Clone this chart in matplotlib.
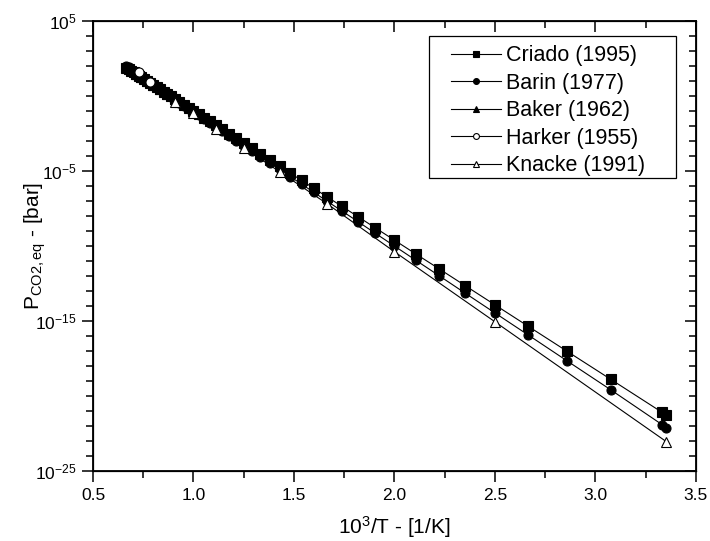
import numpy as np
import matplotlib
matplotlib.use("Agg")
import matplotlib.pyplot as plt
from matplotlib.patches import Rectangle
from matplotlib.ticker import NullFormatter, FixedLocator

plt.rcParams['font.family'] = ['Liberation Sans', 'DejaVu Sans']
plt.rcParams['mathtext.fontset'] = 'custom'
plt.rcParams['mathtext.rm'] = 'Liberation Sans'
plt.rcParams['mathtext.it'] = 'Liberation Sans:italic'

# temperatures [K] and log10 of equilibrium CO2 pressure [bar]
T_criado = [298.15, 300, 325, 350, 375, 400, 425, 450, 475, 500, 525, 550, 575, 600,
            625, 650, 675, 700, 725, 750, 775, 800, 825, 850, 875, 900, 925, 950,
            975, 1000, 1025, 1050, 1075, 1100, 1125, 1150, 1175, 1200, 1225, 1250,
            1275, 1300, 1325, 1350, 1375, 1400, 1425, 1450, 1475, 1500]
logp_criado = [-21.28, -21.10, -18.89, -17.00, -15.36, -13.92, -12.65, -11.52, -10.52,
               -9.61, -8.79, -8.04, -7.36, -6.74, -6.16, -5.63, -5.14, -4.69, -4.26,
               -3.86, -3.49, -3.15, -2.82, -2.51, -2.22, -1.95, -1.69, -1.45, -1.21,
               -0.99, -0.78, -0.58, -0.39, -0.21, -0.03, 0.13, 0.29, 0.45, 0.60, 0.73,
               0.87, 1.00, 1.12, 1.24, 1.36, 1.48, 1.58, 1.68, 1.79, 1.88]

T_barin = T_criado
logp_barin = [-22.13, -21.92, -19.59, -17.64, -15.94, -14.46, -13.15, -11.98, -10.94,
              -10.00, -9.15, -8.37, -7.67, -7.03, -6.43, -5.88, -5.37, -4.90, -4.46,
              -4.04, -3.66, -3.31, -2.97, -2.65, -2.35, -2.07, -1.80, -1.55, -1.30,
              -1.07, -0.85, -0.64, -0.44, -0.25, -0.06, 0.11, 0.28, 0.45, 0.61, 0.75,
              0.90, 1.04, 1.17, 1.30, 1.43, 1.56, 1.67, 1.78, 1.90, 2.00]

T_baker = [1100, 1150, 1200, 1250, 1300, 1350, 1400]
logp_baker = [-0.22, 0.12, 0.44, 0.74, 1.01, 1.26, 1.49]

T_harker = [1273, 1373]
logp_harker = [0.93, 1.62]

T_knacke = [298.15, 400, 500, 600, 700, 800, 900, 1000, 1100]
logp_knacke = [-23.05, -15.05, -10.38, -7.20, -5.05, -3.45, -2.20, -1.15, -0.38]

series = [
    ("Criado (1995)", T_criado, logp_criado, 's', 'black'),
    ("Barin (1977)", T_barin, logp_barin, 'o', 'black'),
    ("Baker (1962)", T_baker, logp_baker, '^', 'black'),
    ("Harker (1955)", T_harker, logp_harker, 'o', 'white'),
    ("Knacke (1991)", T_knacke, logp_knacke, '^', 'white'),
]

fig = plt.figure(figsize=(7.1, 5.41), dpi=100)
ax = fig.add_axes([0.131, 0.1294, 0.849, 0.8318])

for name, T, lp, mk, fc in series:
    x = 1000.0 / np.array(T)
    y = 10.0 ** np.array(lp)
    ax.plot(x, y, color='black', lw=0.8, marker=mk, markersize=6.5,
            markerfacecolor=fc, markeredgecolor='black', markeredgewidth=0.8,
            label=name)

ax.set_yscale('log')
ax.set_xlim(0.5, 3.5)
ax.set_ylim(1e-25, 1e5)

ax.set_xticks([0.5, 1.0, 1.5, 2.0, 2.5, 3.0, 3.5])
ax.set_xticklabels(['0.5', '1.0', '1.5', '2.0', '2.5', '3.0', '3.5'])
ax.set_xticks(np.arange(0.75, 3.5, 0.5), minor=True)

ymaj = [1e-25, 1e-15, 1e-5, 1e5]
ax.yaxis.set_major_locator(FixedLocator(ymaj))
ax.set_yticklabels(['$10^{-25}$', '$10^{-15}$', '$10^{-5}$', '$10^{5}$'])
ymin = [10.0 ** k for k in range(-25, 6)]
ax.yaxis.set_minor_locator(FixedLocator(ymin))
ax.yaxis.set_minor_formatter(NullFormatter())

ax.tick_params(axis='both', which='major', direction='out', length=8, width=1.1,
               labelsize=12.5, colors='black', pad=4)
ax.tick_params(axis='both', which='minor', direction='out', length=5, width=1.1)
for s in ax.spines.values():
    s.set_linewidth(1.3)

# inward ticks on top and right
axt = ax.twiny()
axt.set_xlim(0.5, 3.5)
axt.set_xticks([0.5, 1.0, 1.5, 2.0, 2.5, 3.0, 3.5])
axt.set_xticks(np.arange(0.75, 3.5, 0.5), minor=True)
axt.tick_params(axis='x', which='major', direction='in', length=8, width=1.1, labeltop=False)
axt.tick_params(axis='x', which='minor', direction='in', length=5, width=1.1)

axr = ax.twinx()
axr.set_yscale('log')
axr.set_ylim(1e-25, 1e5)
axr.yaxis.set_major_locator(FixedLocator(ymaj))
axr.yaxis.set_minor_locator(FixedLocator(ymin))
axr.yaxis.set_minor_formatter(NullFormatter())
axr.tick_params(axis='y', which='major', direction='in', length=8, width=1.1, labelright=False)
axr.tick_params(axis='y', which='minor', direction='in', length=5, width=1.1)

ax.set_xlabel('10$^3$/T - [1/K]', fontsize=15, labelpad=8)
ax.set_ylabel(r'P$_{\mathrm{CO2,eq}}$ - [bar]', fontsize=15)
ax.yaxis.set_label_coords(-0.074, 0.5)

# legend box with the wide side padding of the original
ax.add_patch(Rectangle((0.557, 0.651), 0.41, 0.316, transform=ax.transAxes,
                       facecolor='white', edgecolor='black', lw=0.9, zorder=4))
leg = ax.legend(loc='upper left', bbox_to_anchor=(0.594, 0.946), fontsize=15.5,
                frameon=False, markerscale=0.65,
                handlelength=2.3, handletextpad=0.25, labelspacing=0.3,
                borderpad=0, borderaxespad=0)
leg.set_zorder(5)

fig.savefig('out.png', dpi=100)
